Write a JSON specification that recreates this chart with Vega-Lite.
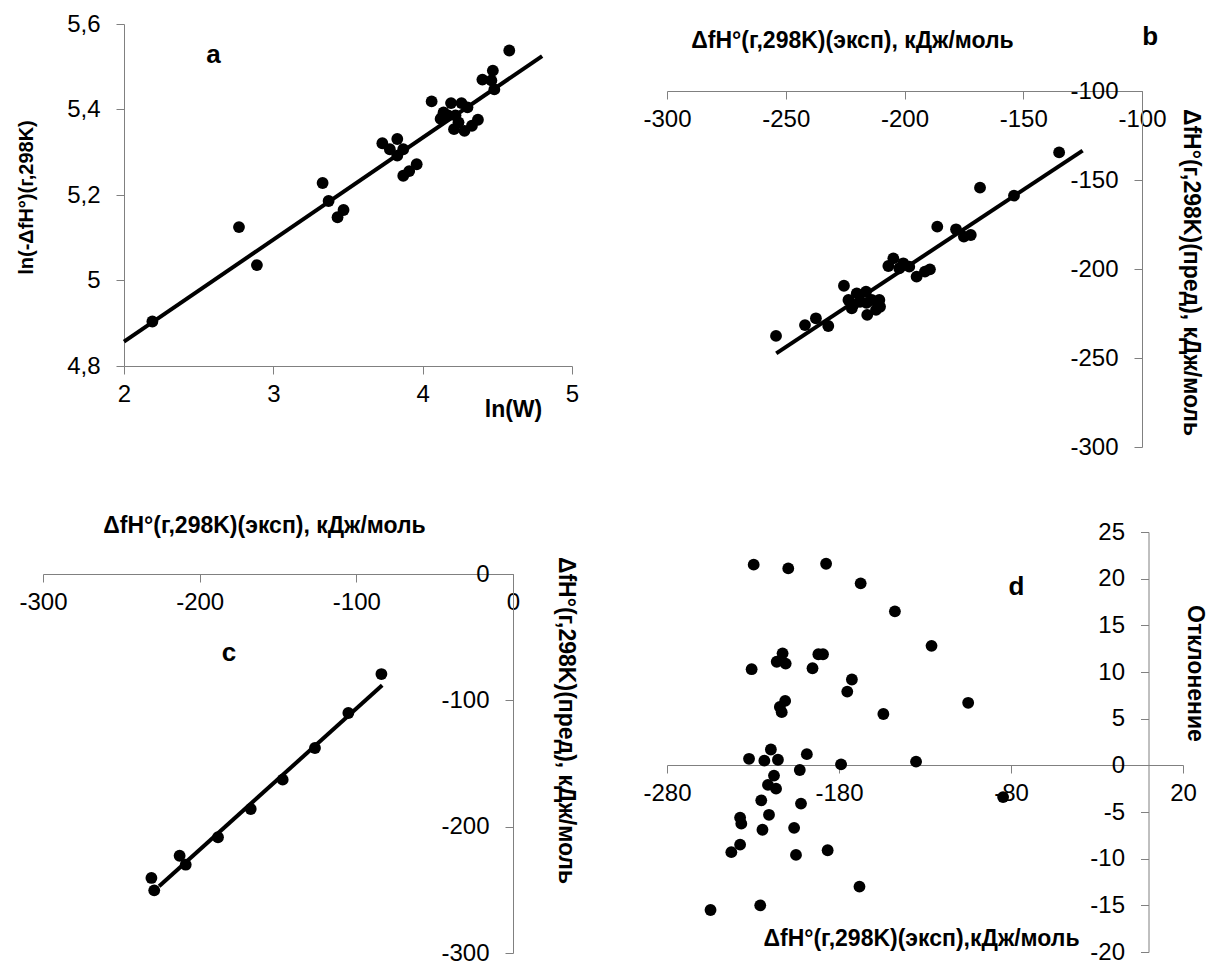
{
  "$schema": "https://vega.github.io/schema/vega-lite/v6.json",
  "padding": 0,
  "background": "white",
  "columns": 2,
  "spacing": 0,
  "bounds": "flush",
  "align": "each",
  "config": {
    "view": {"stroke": null},
    "axis": {
      "grid": false,
      "domainColor": "#808080",
      "tickColor": "#808080",
      "tickSize": 8,
      "labelFont": "Liberation Sans",
      "labelFontSize": 24,
      "labelColor": "black",
      "labelExpr": "toString(datum.value)",
      "titleFont": "Liberation Sans",
      "titleFontSize": 23,
      "titleFontWeight": "bold",
      "titleColor": "black",
      "labelFlush": false,
      "labelOverlap": false,
      "labelBound": false
    }
  },
  "datasets": {
    "a_points": [
      {"x": 2.19, "y": 4.904}, {"x": 2.77, "y": 5.125}, {"x": 2.89, "y": 5.036}, {"x": 3.33, "y": 5.228},
      {"x": 3.37, "y": 5.186}, {"x": 3.43, "y": 5.148}, {"x": 3.47, "y": 5.165}, {"x": 3.73, "y": 5.321},
      {"x": 3.78, "y": 5.307}, {"x": 3.83, "y": 5.331}, {"x": 3.83, "y": 5.292}, {"x": 3.87, "y": 5.307},
      {"x": 3.87, "y": 5.245}, {"x": 3.91, "y": 5.256}, {"x": 3.96, "y": 5.272}, {"x": 4.06, "y": 5.419},
      {"x": 4.12, "y": 5.378}, {"x": 4.13, "y": 5.382}, {"x": 4.14, "y": 5.393}, {"x": 4.17, "y": 5.386},
      {"x": 4.19, "y": 5.415}, {"x": 4.21, "y": 5.354}, {"x": 4.22, "y": 5.386}, {"x": 4.24, "y": 5.37},
      {"x": 4.26, "y": 5.415}, {"x": 4.28, "y": 5.35}, {"x": 4.30, "y": 5.405}, {"x": 4.33, "y": 5.362},
      {"x": 4.37, "y": 5.376}, {"x": 4.40, "y": 5.47}, {"x": 4.46, "y": 5.468}, {"x": 4.47, "y": 5.491},
      {"x": 4.48, "y": 5.447}, {"x": 4.58, "y": 5.538}
    ],
    "a_line": [{"x": 2.0, "y": 4.857}, {"x": 4.8, "y": 5.525}],
    "a_label": [{"x": 2.6, "y": 5.527, "t": "a"}],
    "b_points": [
      {"x": -254.1, "y": -237.6}, {"x": -241.9, "y": -231.5}, {"x": -237.3, "y": -227.7}, {"x": -232.1, "y": -232.0},
      {"x": -225.5, "y": -209.4}, {"x": -223.6, "y": -217.4}, {"x": -222.2, "y": -222.1}, {"x": -221.5, "y": -220.0},
      {"x": -220.1, "y": -213.7}, {"x": -218.7, "y": -218.4}, {"x": -216.2, "y": -212.7}, {"x": -216.0, "y": -219.0},
      {"x": -215.7, "y": -225.8}, {"x": -213.8, "y": -217.4}, {"x": -212.0, "y": -223.0}, {"x": -210.6, "y": -217.4},
      {"x": -210.3, "y": -221.2}, {"x": -206.8, "y": -198.3}, {"x": -204.7, "y": -194.0}, {"x": -202.2, "y": -199.6},
      {"x": -200.5, "y": -196.8}, {"x": -198.0, "y": -198.7}, {"x": -194.9, "y": -204.3}, {"x": -191.4, "y": -201.5},
      {"x": -189.3, "y": -200.2}, {"x": -186.2, "y": -176.2}, {"x": -178.3, "y": -177.7}, {"x": -175.0, "y": -181.8},
      {"x": -172.1, "y": -180.9}, {"x": -168.2, "y": -154.3}, {"x": -153.9, "y": -158.8}, {"x": -134.9, "y": -134.5}
    ],
    "b_line": [{"x": -254.0, "y": -247.4}, {"x": -125.0, "y": -133.5}],
    "b_label": [{"x": -96.6, "y": -69.7, "t": "b"}],
    "c_points": [
      {"x": -230.8, "y": -240.6}, {"x": -229.0, "y": -250.4}, {"x": -212.8, "y": -223.0}, {"x": -208.9, "y": -230.1},
      {"x": -188.3, "y": -208.4}, {"x": -167.4, "y": -186.0}, {"x": -147.0, "y": -162.8}, {"x": -126.4, "y": -137.7},
      {"x": -105.1, "y": -110.0}, {"x": -84.0, "y": -79.2}
    ],
    "c_line": [{"x": -225.9, "y": -247.2}, {"x": -83.5, "y": -88.1}],
    "c_label": [{"x": -181.3, "y": -62.5, "t": "c"}],
    "d_points": [
      {"x": -229.6, "y": 21.5}, {"x": -209.5, "y": 21.1}, {"x": -187.5, "y": 21.6}, {"x": -167.4, "y": 19.5},
      {"x": -147.5, "y": 16.5}, {"x": -126.2, "y": 12.8}, {"x": -212.8, "y": 12.0}, {"x": -216.2, "y": 11.1},
      {"x": -211.0, "y": 10.9}, {"x": -230.8, "y": 10.3}, {"x": -195.4, "y": 10.4}, {"x": -192.0, "y": 11.9},
      {"x": -189.3, "y": 11.9}, {"x": -172.5, "y": 9.2}, {"x": -175.2, "y": 7.9}, {"x": -214.4, "y": 6.25},
      {"x": -211.3, "y": 6.9}, {"x": -213.3, "y": 5.7}, {"x": -154.2, "y": 5.5}, {"x": -104.9, "y": 6.7},
      {"x": -219.6, "y": 1.7}, {"x": -232.3, "y": 0.7}, {"x": -223.4, "y": 0.5}, {"x": -215.5, "y": 0.6},
      {"x": -198.7, "y": 1.2}, {"x": -178.8, "y": 0.1}, {"x": -135.2, "y": 0.4}, {"x": -202.8, "y": -0.5},
      {"x": -217.8, "y": -1.1}, {"x": -221.3, "y": -2.1}, {"x": -216.6, "y": -2.5}, {"x": -84.6, "y": -3.4},
      {"x": -225.2, "y": -3.75}, {"x": -202.1, "y": -4.1}, {"x": -220.7, "y": -5.3}, {"x": -237.5, "y": -5.6},
      {"x": -236.8, "y": -6.25}, {"x": -224.5, "y": -6.9}, {"x": -206.1, "y": -6.7}, {"x": -237.5, "y": -8.5},
      {"x": -242.6, "y": -9.3}, {"x": -205.0, "y": -9.6}, {"x": -186.6, "y": -9.1}, {"x": -168.1, "y": -13.0},
      {"x": -254.7, "y": -15.5}, {"x": -225.8, "y": -15.0}
    ],
    "d_label": [{"x": -76.8, "y": 19.1, "t": "d"}]
  },
  "concat": [
    {
      "width": 600,
      "height": 480,
      "layer": [
        {
          "data": {"name": "a_line"},
          "mark": {"type": "line", "color": "black", "strokeWidth": 4},
          "encoding": {
            "x": {"field": "x", "type": "quantitative",
              "scale": {"domain": [2, 5], "range": [124, 572], "nice": false, "zero": false},
              "axis": {"orient": "bottom", "offset": -114, "values": [2, 3, 4, 5], "labelPadding": 8,
                "title": "ln(W)", "titleX": 513, "titleY": 50, "titleAlign": "center", "titleBaseline": "alphabetic"}},
            "y": {"field": "y", "type": "quantitative",
              "scale": {"domain": [4.8, 5.6], "range": [366, 24], "nice": false, "zero": false},
              "axis": {"orient": "left", "offset": -124, "values": [4.8, 5, 5.2, 5.4, 5.6], "labelPadding": 16,
                "labelExpr": "replace(toString(round(datum.value*10)/10), '.', ',')",
                "title": "ln(-ΔfH°)(г,298K)", "titleFontSize": 20, "titleX": -98, "titleY": 197, "titleAngle": 270,
                "titleAlign": "center", "titleBaseline": "middle"}}
          }
        },
        {
          "data": {"name": "a_points"},
          "mark": {"type": "circle", "size": 140, "color": "black", "opacity": 1},
          "encoding": {"x": {"field": "x", "type": "quantitative"}, "y": {"field": "y", "type": "quantitative"}}
        },
        {
          "data": {"name": "a_label"},
          "mark": {"type": "text", "font": "Liberation Sans", "fontWeight": "bold", "fontSize": 26, "color": "black", "align": "center", "baseline": "middle"},
          "encoding": {"x": {"field": "x", "type": "quantitative"}, "y": {"field": "y", "type": "quantitative"}, "text": {"field": "t"}}
        }
      ]
    },
    {
      "width": 610,
      "height": 480,
      "layer": [
        {
          "data": {"name": "b_line"},
          "mark": {"type": "line", "color": "black", "strokeWidth": 4},
          "encoding": {
            "x": {"field": "x", "type": "quantitative",
              "scale": {"domain": [-300, -100], "range": [67, 542], "nice": false, "zero": false},
              "axis": {"orient": "bottom", "offset": -389, "values": [-300, -250, -200, -150, -100], "labelPadding": 8,
                "title": "ΔfH°(г,298K)(эксп), кДж/моль", "titleX": 252, "titleY": -51, "titleAlign": "center", "titleBaseline": "middle"}},
            "y": {"field": "y", "type": "quantitative",
              "scale": {"domain": [-300, -100], "range": [447, 91], "nice": false, "zero": false},
              "axis": {"orient": "left", "offset": -542, "values": [-300, -250, -200, -150, -100], "labelPadding": 16,
                "title": "ΔfH°(г,298K)(пред), кДж/моль", "titleX": 48, "titleY": 272, "titleAngle": 90,
                "titleAlign": "center", "titleBaseline": "middle"}}
          }
        },
        {
          "data": {"name": "b_points"},
          "mark": {"type": "circle", "size": 140, "color": "black", "opacity": 1},
          "encoding": {"x": {"field": "x", "type": "quantitative"}, "y": {"field": "y", "type": "quantitative"}}
        },
        {
          "data": {"name": "b_label"},
          "mark": {"type": "text", "font": "Liberation Sans", "fontWeight": "bold", "fontSize": 26, "color": "black", "align": "center", "baseline": "middle"},
          "encoding": {"x": {"field": "x", "type": "quantitative"}, "y": {"field": "y", "type": "quantitative"}, "text": {"field": "t"}}
        }
      ]
    },
    {
      "width": 600,
      "height": 482,
      "layer": [
        {
          "data": {"name": "c_line"},
          "mark": {"type": "line", "color": "black", "strokeWidth": 4},
          "encoding": {
            "x": {"field": "x", "type": "quantitative",
              "scale": {"domain": [-300, 0], "range": [43, 513], "nice": false, "zero": false},
              "axis": {"orient": "bottom", "offset": -388, "values": [-300, -200, -100, 0], "labelPadding": 8,
                "title": "ΔfH°(г,298K)(эксп), кДж/моль", "titleX": 264, "titleY": -49, "titleAlign": "center", "titleBaseline": "middle"}},
            "y": {"field": "y", "type": "quantitative",
              "scale": {"domain": [-300, 0], "range": [473, 94], "nice": false, "zero": false},
              "axis": {"orient": "left", "offset": -513, "values": [-300, -200, -100, 0], "labelPadding": 16,
                "title": "ΔfH°(г,298K)(пред), кДж/моль", "titleX": 52, "titleY": 240, "titleAngle": 90,
                "titleAlign": "center", "titleBaseline": "middle"}}
          }
        },
        {
          "data": {"name": "c_points"},
          "mark": {"type": "circle", "size": 140, "color": "black", "opacity": 1},
          "encoding": {"x": {"field": "x", "type": "quantitative"}, "y": {"field": "y", "type": "quantitative"}}
        },
        {
          "data": {"name": "c_label"},
          "mark": {"type": "text", "font": "Liberation Sans", "fontWeight": "bold", "fontSize": 26, "color": "black", "align": "center", "baseline": "middle"},
          "encoding": {"x": {"field": "x", "type": "quantitative"}, "y": {"field": "y", "type": "quantitative"}, "text": {"field": "t"}}
        }
      ]
    },
    {
      "width": 610,
      "height": 482,
      "layer": [
        {
          "data": {"name": "d_points"},
          "mark": {"type": "circle", "size": 140, "color": "black", "opacity": 1},
          "encoding": {
            "x": {"field": "x", "type": "quantitative",
              "scale": {"domain": [-280, 20], "range": [67, 583], "nice": false, "zero": false},
              "axis": {"orient": "bottom", "offset": -197, "values": [-280, -180, -80, 20], "labelPadding": 8,
                "title": "ΔfH°(г,298K)(эксп),кДж/моль", "titleX": 321, "titleY": 173, "titleAlign": "center", "titleBaseline": "middle"}},
            "y": {"field": "y", "type": "quantitative",
              "scale": {"domain": [-20, 25], "range": [472, 52], "nice": false, "zero": false},
              "axis": {"orient": "left", "offset": -548.5, "values": [-20, -15, -10, -5, 0, 5, 10, 15, 20, 25], "labelPadding": 16,
                "title": "Отклонение", "titleX": 45.5, "titleY": 193, "titleAngle": 90,
                "titleAlign": "center", "titleBaseline": "middle"}}
          }
        },
        {
          "data": {"name": "d_label"},
          "mark": {"type": "text", "font": "Liberation Sans", "fontWeight": "bold", "fontSize": 26, "color": "black", "align": "center", "baseline": "middle"},
          "encoding": {"x": {"field": "x", "type": "quantitative"}, "y": {"field": "y", "type": "quantitative"}, "text": {"field": "t"}}
        }
      ]
    }
  ]
}
